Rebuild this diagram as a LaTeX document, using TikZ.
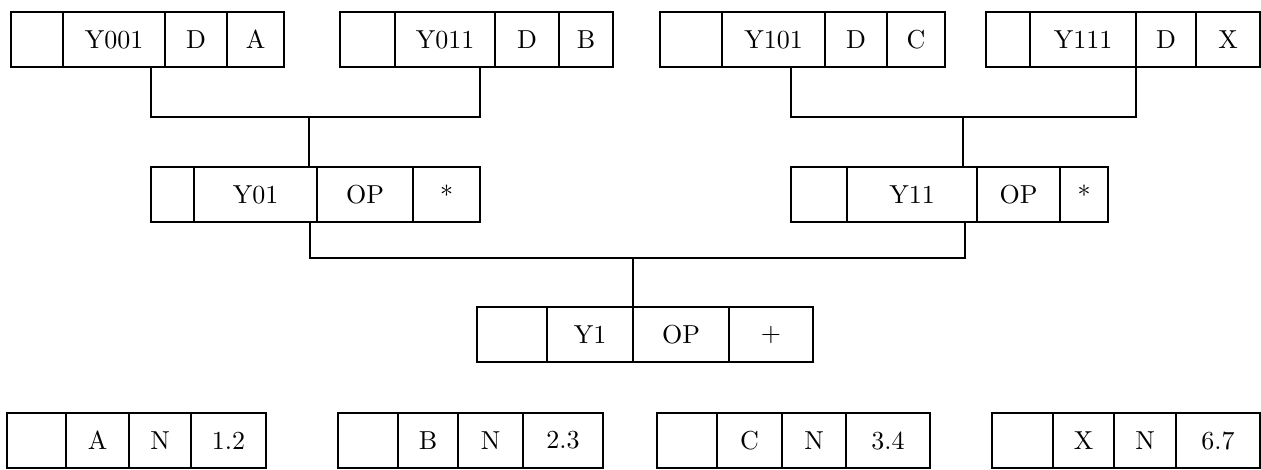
\documentclass[tikz,border=0pt]{standalone}
\usepackage{graphicx}
\newcommand\celltext[1]{\scalebox{2.6}{\fontsize{10}{12}\selectfont #1}}
\begin{document}
\begin{tikzpicture}[x=1pt,y=-1pt,
  cell/.style={draw, line width=1.4pt, anchor=north west, inner sep=0pt, outer sep=0pt,
    minimum height=55pt},
  conn/.style={line width=1.3pt}]
\useasboundingbox (0,0) rectangle (1261,469);
% ---------- top row ----------
\node[cell, minimum width=52pt]  (a1) at (11,12)  {};
\node[cell, minimum width=102pt] (a2) at (63,12)  {\celltext{Y001}};
\node[cell, minimum width=62pt]  (a3) at (165,12) {\celltext{D}};
\node[cell, minimum width=57pt]  (a4) at (227,12) {\celltext{A}};
\node[cell, minimum width=55pt]  (b1) at (340,12) {};
\node[cell, minimum width=100pt] (b2) at (395,12) {\celltext{Y011}};
\node[cell, minimum width=64pt]  (b3) at (495,12) {\celltext{D}};
\node[cell, minimum width=54pt]  (b4) at (559,12) {\celltext{B}};
\node[cell, minimum width=62pt]  (c1) at (660,12) {};
\node[cell, minimum width=103pt] (c2) at (722,12) {\celltext{Y101}};
\node[cell, minimum width=62pt]  (c3) at (825,12) {\celltext{D}};
\node[cell, minimum width=58pt]  (c4) at (887,12) {\celltext{C}};
\node[cell, minimum width=44pt]  (d1) at (986,12) {};
\node[cell, minimum width=106pt] (d2) at (1030,12) {\celltext{Y111}};
\node[cell, minimum width=60pt]  (d3) at (1136,12) {\celltext{D}};
\node[cell, minimum width=64pt]  (d4) at (1196,12) {\celltext{X}};
% ---------- middle row ----------
\node[cell, minimum width=43pt]  (e1) at (151,167) {};
\node[cell, minimum width=123pt] (e2) at (194,167) {\celltext{Y01}};
\node[cell, minimum width=96pt]  (e3) at (317,167) {\celltext{OP}};
\node[cell, minimum width=67pt]  (e4) at (413,167) {\celltext{*}};
\node[cell, minimum width=56pt]  (f1) at (791,167) {};
\node[cell, minimum width=130pt] (f2) at (847,167) {\celltext{Y11}};
\node[cell, minimum width=83pt]  (f3) at (977,167) {\celltext{OP}};
\node[cell, minimum width=48pt]  (f4) at (1060,167) {\celltext{*}};
% ---------- root ----------
\node[cell, minimum width=70pt]  (g1) at (477,307) {};
\node[cell, minimum width=86pt]  (g2) at (547,307) {\celltext{Y1}};
\node[cell, minimum width=96pt]  (g3) at (633,307) {\celltext{OP}};
\node[cell, minimum width=84pt]  (g4) at (729,307) {\celltext{$+$}};
% ---------- bottom row ----------
\node[cell, minimum width=59pt]  (h1) at (7,413)   {};
\node[cell, minimum width=63pt]  (h2) at (66,413)  {\celltext{A}};
\node[cell, minimum width=62pt]  (h3) at (129,413) {\celltext{N}};
\node[cell, minimum width=75pt]  (h4) at (191,413) {\celltext{1.2}};
\node[cell, minimum width=60pt]  (i1) at (338,413) {};
\node[cell, minimum width=60pt]  (i2) at (398,413) {\celltext{B}};
\node[cell, minimum width=65pt]  (i3) at (458,413) {\celltext{N}};
\node[cell, minimum width=80pt]  (i4) at (523,413) {\celltext{2.3}};
\node[cell, minimum width=60pt]  (j1) at (657,413) {};
\node[cell, minimum width=65pt]  (j2) at (717,413) {\celltext{C}};
\node[cell, minimum width=64pt]  (j3) at (782,413) {\celltext{N}};
\node[cell, minimum width=84pt]  (j4) at (846,413) {\celltext{3.4}};
\node[cell, minimum width=61pt]  (k1) at (992,413) {};
\node[cell, minimum width=61pt]  (k2) at (1053,413) {\celltext{X}};
\node[cell, minimum width=62pt]  (k3) at (1114,413) {\celltext{N}};
\node[cell, minimum width=84pt]  (k4) at (1176,413) {\celltext{6.7}};
% ---------- connectors ----------
\coordinate (xa) at (151,0);
\coordinate (xb) at (480,0);
\coordinate (xc) at (791,0);
\coordinate (xd) at (1136,0);
\coordinate (xe) at (310,0);
\coordinate (xf) at (965,0);
\coordinate (jab) at (309,117);
\coordinate (jcd) at (963,117);
\coordinate (jef) at (633,258);
\draw[conn] (a2.south -| xa) |- (jab) -| (b2.south -| xb);
\draw[conn] (jab) -- (e3.north -| jab);
\draw[conn] (c2.south -| xc) |- (jcd) -| (d2.south -| xd);
\draw[conn] (jcd) -- (f2.north -| jcd);
\draw[conn] (e2.south -| xe) |- (jef) -| (f2.south -| xf);
\draw[conn] (jef) -- (g3.north -| jef);
\end{tikzpicture}
\end{document}
